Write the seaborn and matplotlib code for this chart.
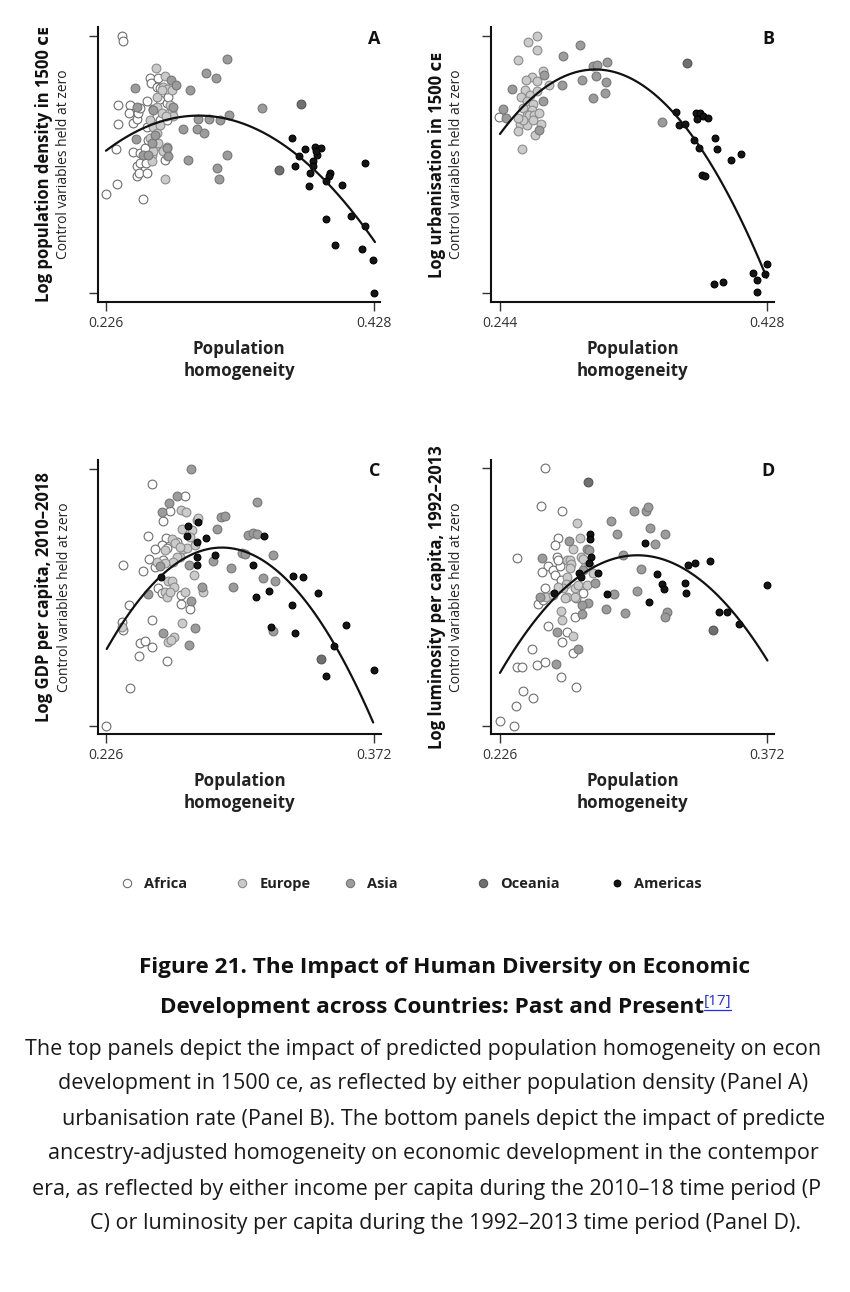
import numpy as np
import seaborn as sns
import matplotlib.pyplot as plt
from matplotlib.lines import Line2D

W, H = 850, 1292

# ---- data (y is normalised: bottom tick = 0, top tick = 1)
regions = ["Africa", "Europe", "Asia", "Oceania", "Americas"]

panel_a = {
    "Africa": ([0.2378, 0.2391, 0.2348, 0.2348, 0.2338, 0.2346, 0.2263, 0.2541, 0.2461, 0.2441,
                0.2431, 0.2461, 0.2491, 0.2499, 0.2516, 0.2566, 0.2592, 0.2597, 0.2642, 0.2667,
                0.2516, 0.2491, 0.2516, 0.2491, 0.2511, 0.2566, 0.2561, 0.2554, 0.2579, 0.2667,
                0.2692, 0.2717, 0.2705, 0.2566, 0.2617, 0.2642, 0.2667, 0.2730, 0.2654, 0.2717],
               [1.000, 0.981, 0.731, 0.657, 0.559, 0.423, 0.383, 0.367, 0.546, 0.731,
                0.701, 0.660, 0.675, 0.699, 0.718, 0.748, 0.834, 0.815, 0.802, 0.796,
                0.543, 0.492, 0.505, 0.455, 0.466, 0.468, 0.507, 0.563, 0.595, 0.750,
                0.724, 0.737, 0.517, 0.647, 0.714, 0.686, 0.673, 0.763, 0.834, 0.673]),
    "Europe": ([0.2634, 0.2705, 0.2692, 0.2642, 0.2717, 0.2680, 0.2755, 0.2642, 0.2742, 0.2680,
                0.2755, 0.2767, 0.2712, 0.2592, 0.2617, 0.2642, 0.2667, 0.2592, 0.2629, 0.2604,
                0.2604, 0.2705, 0.2717, 0.2717, 0.2692, 0.2654, 0.2617],
               [0.873, 0.843, 0.802, 0.761, 0.792, 0.789, 0.789, 0.724, 0.731, 0.699,
                0.705, 0.686, 0.686, 0.673, 0.647, 0.621, 0.653, 0.602, 0.569, 0.537,
                0.511, 0.442, 0.569, 0.537, 0.550, 0.582, 0.550]),
    "Asia": ([0.2479, 0.2496, 0.2486, 0.2536, 0.2617, 0.2579, 0.2747, 0.2785, 0.2767, 0.2893,
              0.3014, 0.3086, 0.3169, 0.2840, 0.2943, 0.2999, 0.2956, 0.3039, 0.3119, 0.3189,
              0.2880, 0.3094, 0.3114, 0.3174, 0.3433, 0.2717, 0.2730, 0.2604, 0.2629],
             [0.796, 0.722, 0.599, 0.537, 0.712, 0.537, 0.828, 0.807, 0.724, 0.787,
              0.856, 0.834, 0.909, 0.636, 0.636, 0.621, 0.678, 0.675, 0.673, 0.692,
              0.515, 0.485, 0.444, 0.536, 0.718, 0.563, 0.533, 0.582, 0.614]),
    "Oceania": ([0.3732, 0.3566], [0.736, 0.479]),
    "Americas": ([0.3662, 0.3762, 0.3837, 0.3878, 0.3717, 0.3848, 0.3843, 0.3822, 0.3687, 0.3797,
                  0.3787, 0.3948, 0.3943, 0.3918, 0.4038, 0.4214, 0.3817, 0.3918, 0.4104, 0.4209,
                  0.3988, 0.4189, 0.4270, 0.4280],
                 [0.602, 0.561, 0.569, 0.565, 0.533, 0.537, 0.550, 0.511, 0.492, 0.466,
                  0.414, 0.468, 0.453, 0.437, 0.418, 0.505, 0.494, 0.288, 0.300, 0.259,
                  0.185, 0.169, 0.129, 0.000]),
}
curve_a_x = [0.226, 0.2592, 0.2918, 0.3194, 0.3471, 0.3722, 0.3973, 0.4287]
curve_a_y = [0.556, 0.647, 0.690, 0.673, 0.614, 0.530, 0.408, 0.194]

panel_b = {
    "Africa": ([0.2435], [0.683]),
    "Europe": ([0.2698, 0.2636, 0.2698, 0.2567, 0.2739, 0.2663, 0.2619, 0.2698, 0.2780, 0.2613,
                0.2583, 0.2647, 0.2693, 0.2624, 0.2670, 0.2601, 0.2659, 0.2624, 0.2642, 0.2677,
                0.2711, 0.2578, 0.2629, 0.2721, 0.2567, 0.2682, 0.2590, 0.2670, 0.2601, 0.2567],
               [1.000, 0.974, 0.943, 0.906, 0.862, 0.840, 0.827, 0.823, 0.810, 0.787,
                0.761, 0.771, 0.784, 0.748, 0.735, 0.719, 0.713, 0.691, 0.693, 0.691,
                0.700, 0.655, 0.652, 0.655, 0.629, 0.613, 0.558, 0.674, 0.674, 0.680]),
    "Asia": ([0.2992, 0.2877, 0.2746, 0.2521, 0.2739, 0.2463, 0.2481, 0.2711, 0.2870, 0.3008,
              0.3084, 0.3107, 0.3176, 0.3102, 0.3169, 0.3079, 0.3167, 0.3558],
             [0.965, 0.922, 0.849, 0.793, 0.745, 0.714, 0.680, 0.635, 0.807, 0.829,
              0.881, 0.885, 0.897, 0.842, 0.819, 0.758, 0.776, 0.664]),
    "Oceania": ([0.3728], [0.893]),
    "Americas": ([0.3654, 0.3677, 0.3717, 0.3792, 0.3820, 0.3843, 0.3875, 0.3802, 0.3779, 0.3815,
                  0.3926, 0.3940, 0.4034, 0.4103, 0.3834, 0.3852, 0.3917, 0.3981, 0.4188, 0.4211,
                  0.4211, 0.4282, 0.4271],
                 [0.705, 0.651, 0.655, 0.701, 0.701, 0.688, 0.679, 0.675, 0.595, 0.565,
                  0.604, 0.560, 0.516, 0.542, 0.459, 0.453, 0.035, 0.043, 0.079, 0.052,
                  0.003, 0.114, 0.075]),
}
curve_b_x = [0.244, 0.2624, 0.2808, 0.2992, 0.3096, 0.3268, 0.3452, 0.3682, 0.3866, 0.4096, 0.428]
curve_b_y = [0.621, 0.737, 0.818, 0.860, 0.867, 0.850, 0.809, 0.666, 0.524, 0.295, 0.058]

panel_c = {
    "Africa": ([0.2509, 0.2689, 0.2609, 0.2569, 0.2491, 0.2585, 0.2563, 0.2527, 0.2496, 0.2354,
                0.2463, 0.2527, 0.2572, 0.2545, 0.2563, 0.2667, 0.2667, 0.2718, 0.2383, 0.2354,
                0.2347, 0.2509, 0.2445, 0.2472, 0.2509, 0.2442, 0.2594, 0.2391, 0.2260, 0.2591,
                0.2645],
               [0.940, 0.896, 0.836, 0.797, 0.739, 0.732, 0.704, 0.687, 0.648, 0.625,
                0.604, 0.619, 0.645, 0.535, 0.518, 0.509, 0.474, 0.453, 0.471, 0.373,
                0.405, 0.410, 0.321, 0.331, 0.308, 0.273, 0.251, 0.148, 0.001, 0.691,
                0.717]),
    "Europe": ([0.2669, 0.2696, 0.2672, 0.2727, 0.2581, 0.2618, 0.2636, 0.2681, 0.2703, 0.2663,
                0.2645, 0.2627, 0.2581, 0.2536, 0.2600, 0.2618, 0.2631, 0.2581, 0.2591, 0.2609,
                0.2741, 0.2690, 0.2672, 0.2600, 0.2631, 0.2614, 0.2754, 0.2763, 0.2790, 0.2745,
                0.2718, 0.2663, 0.2345],
               [0.840, 0.834, 0.765, 0.762, 0.684, 0.726, 0.713, 0.687, 0.691, 0.658,
                0.656, 0.639, 0.635, 0.638, 0.565, 0.565, 0.542, 0.522, 0.503, 0.522,
                0.587, 0.522, 0.401, 0.327, 0.347, 0.334, 0.801, 0.808, 0.522, 0.704,
                0.736, 0.697, 0.386]),
    "Asia": ([0.2721, 0.2645, 0.2605, 0.2567, 0.3081, 0.2885, 0.2908, 0.2867, 0.3035, 0.3059,
              0.3081, 0.2999, 0.3017, 0.3168, 0.2841, 0.2939, 0.2714, 0.2785, 0.2950, 0.3114,
              0.3179, 0.2721, 0.2491, 0.2572, 0.2747, 0.2712, 0.2554, 0.3172],
             [1.000, 0.895, 0.869, 0.831, 0.873, 0.814, 0.818, 0.766, 0.742, 0.752,
              0.747, 0.674, 0.668, 0.665, 0.642, 0.613, 0.626, 0.539, 0.542, 0.577,
              0.565, 0.487, 0.512, 0.362, 0.379, 0.314, 0.623, 0.370]),
    "Oceania": ([0.3430], [0.262]),
    "Americas": ([0.2709, 0.2763, 0.2703, 0.2758, 0.2805, 0.2754, 0.2758, 0.2854, 0.2558, 0.3059,
                  0.3121, 0.3150, 0.3077, 0.3157, 0.3281, 0.3335, 0.3415, 0.3273, 0.3290, 0.3568,
                  0.3504, 0.3459, 0.3720],
                 [0.779, 0.792, 0.739, 0.717, 0.731, 0.658, 0.625, 0.665, 0.578, 0.625,
                  0.739, 0.526, 0.501, 0.383, 0.583, 0.578, 0.516, 0.470, 0.362, 0.394,
                  0.310, 0.194, 0.217]),
}
curve_c_x = [0.2264, 0.2409, 0.2554, 0.2699, 0.2890, 0.3063, 0.3244, 0.3426, 0.3571, 0.3716]
curve_c_y = [0.297, 0.461, 0.581, 0.658, 0.695, 0.665, 0.568, 0.405, 0.230, 0.016]

panel_d = {
    "Africa": ([0.2506, 0.2483, 0.2598, 0.2351, 0.2579, 0.2561, 0.2570, 0.2525, 0.2488, 0.2552,
                0.2589, 0.2561, 0.2592, 0.2506, 0.2466, 0.2497, 0.2525, 0.2625, 0.2598, 0.2671,
                0.2662, 0.2437, 0.2351, 0.2379, 0.2461, 0.2506, 0.2592, 0.2674, 0.2384, 0.2439,
                0.2348, 0.2260, 0.2338, 0.2716, 0.2676, 0.2579],
               [1.000, 0.855, 0.834, 0.650, 0.728, 0.702, 0.654, 0.620, 0.598, 0.605,
                0.620, 0.586, 0.566, 0.534, 0.472, 0.488, 0.387, 0.365, 0.326, 0.424,
                0.284, 0.298, 0.229, 0.228, 0.236, 0.249, 0.190, 0.152, 0.135, 0.109,
                0.076, 0.019, 0.001, 0.514, 0.495, 0.644]),
    "Europe": ([0.2683, 0.2698, 0.2662, 0.2625, 0.2643, 0.2649, 0.2702, 0.2713, 0.2725, 0.2643,
                0.2629, 0.2621, 0.2607, 0.2579, 0.2625, 0.2671, 0.2689, 0.2738, 0.2671, 0.2512,
                0.2598, 0.2662, 0.2749, 0.2771, 0.2594, 0.2616, 0.2552],
               [0.786, 0.728, 0.685, 0.644, 0.644, 0.628, 0.657, 0.646, 0.618, 0.611,
                0.576, 0.551, 0.534, 0.540, 0.501, 0.534, 0.547, 0.547, 0.499, 0.501,
                0.411, 0.348, 0.624, 0.592, 0.447, 0.496, 0.508]),
    "Asia": ([0.2868, 0.2899, 0.2640, 0.2488, 0.2735, 0.2745, 0.2932, 0.2716, 0.2780, 0.2740,
              0.2707, 0.2707, 0.2839, 0.2884, 0.2944, 0.2479, 0.2570, 0.2689, 0.2567, 0.3008,
              0.2994, 0.3059, 0.3072, 0.3081, 0.3109, 0.3165, 0.3030, 0.3173, 0.3165],
             [0.795, 0.745, 0.719, 0.650, 0.685, 0.683, 0.663, 0.605, 0.556, 0.478,
              0.468, 0.433, 0.452, 0.510, 0.437, 0.499, 0.365, 0.297, 0.240, 0.525,
              0.835, 0.833, 0.851, 0.767, 0.705, 0.745, 0.610, 0.443, 0.424]),
    "Oceania": ([0.2744, 0.3424], [0.948, 0.372]),
    "Americas": ([0.2753, 0.2753, 0.2758, 0.2749, 0.2694, 0.2702, 0.2798, 0.2844, 0.2557, 0.3054,
                  0.3078, 0.3121, 0.3147, 0.3156, 0.3273, 0.3280, 0.3289, 0.3329, 0.3412, 0.3459,
                  0.3503, 0.3567, 0.3724],
                 [0.745, 0.725, 0.657, 0.631, 0.595, 0.579, 0.595, 0.510, 0.514, 0.711,
                  0.482, 0.591, 0.551, 0.531, 0.553, 0.516, 0.626, 0.633, 0.640, 0.443,
                  0.440, 0.395, 0.545]),
}
curve_d_x = [0.2260, 0.2388, 0.2552, 0.2753, 0.2935, 0.3008, 0.3136, 0.3282, 0.3428, 0.3574, 0.3724]
curve_d_y = [0.206, 0.335, 0.501, 0.615, 0.659, 0.662, 0.650, 0.601, 0.514, 0.398, 0.266]

xticks_ab = ([0.226, 0.428], [0.244, 0.428])
xticks_cd = ([0.226, 0.372], [0.226, 0.372])

# caption lines as far as they are visible in the cropped page
body = [
    "The top panels depict the impact of predicted population homogeneity on econ",
    "development in 1500 ce, as reflected by either population density (Panel A)",
    "urbanisation rate (Panel B). The bottom panels depict the impact of predicte",
    "ancestry-adjusted homogeneity on economic development in the contempor",
    "era, as reflected by either income per capita during the 2010\u201318 time period (P",
    "C) or luminosity per capita during the 1992\u20132013 time period (Panel D).",
]
body_left = [25, 58, 62, 48, 32, 90]

# ---- styles
face = {"Africa": "#ffffff", "Europe": "#cbcbcb", "Asia": "#9c9c9c",
        "Oceania": "#707070", "Americas": "#151515"}
edge = {"Africa": "#6e6e6e", "Europe": "#8c8c8c", "Asia": "#777777",
        "Oceania": "#555555", "Americas": "#000000"}
msize = {"Africa": 40, "Europe": 40, "Asia": 40, "Oceania": 40, "Americas": 24}

sns.set_theme(style="ticks")
plt.rcParams["font.family"] = ["Open Sans", "DejaVu Sans"]

fig = plt.figure(figsize=(W / 100, H / 100), dpi=100)
fig.patch.set_facecolor("white")


def px(x, y):
    return x / W, 1 - y / H


panels = [
    dict(data=panel_a, cx=curve_a_x, cy=curve_a_y, ticks=xticks_ab[0], letter="A",
         rect=(98, 301.7, 282, 275), xlim=(0.2200, 0.4325), ylim=(-0.034, 1.035),
         ylab="Log population density in 1500 \u1d04\u1d07", let_y=39),
    dict(data=panel_b, cx=curve_b_x, cy=curve_b_y, ticks=xticks_ab[1], letter="B",
         rect=(490.7, 301.7, 283.3, 275), xlim=(0.2376, 0.4330), ylim=(-0.034, 1.035),
         ylab="Log urbanisation in 1500 \u1d04\u1d07", let_y=39),
    dict(data=panel_c, cx=curve_c_x, cy=curve_c_y, ticks=xticks_cd[0], letter="C",
         rect=(98.3, 734, 282.4, 274), xlim=(0.2218, 0.3757), ylim=(-0.032, 1.035),
         ylab="Log GDP per capita, 2010\u20132018", let_y=471),
    dict(data=panel_d, cx=curve_d_x, cy=curve_d_y, ticks=xticks_cd[1], letter="D",
         rect=(491, 734, 283, 274), xlim=(0.2211, 0.3760), ylim=(-0.032, 1.032),
         ylab="Log luminosity per capita, 1992\u20132013", let_y=471),
]

for p in panels:
    l, b, w, h = p["rect"]
    ax = fig.add_axes([l / W, 1 - b / H, w / W, h / H])
    for r in regions:
        xs, ys = p["data"][r]
        sns.scatterplot(x=xs, y=ys, ax=ax, color=face[r], edgecolor=edge[r],
                        s=msize[r], linewidth=0.8, zorder=3, legend=False)
    sns.regplot(x=np.array(p["cx"]), y=np.array(p["cy"]), order=2, ci=None,
                scatter=False, truncate=True, ax=ax,
                line_kws=dict(color="#111111", lw=1.6, zorder=4))
    ax.set_xlim(*p["xlim"])
    ax.set_ylim(*p["ylim"])
    ax.set_xticks(p["ticks"])
    ax.set_xticklabels([f"{t:.3f}" for t in p["ticks"]])
    ax.set_yticks([0, 1])
    ax.set_yticklabels([])
    ax.set_xlabel("")
    ax.set_ylabel("")
    sns.despine(ax=ax)
    for s in ("left", "bottom"):
        ax.spines[s].set_linewidth(1.5)
        ax.spines[s].set_color("#111111")
    ax.tick_params(axis="both", direction="out", length=6.5, width=1.0,
                   color="#333333", labelsize=10, labelcolor="#333333", pad=3.5)
    ax.set_facecolor("white")
    ax.text((w - 6) / w, (b - p["let_y"]) / h, p["letter"], transform=ax.transAxes,
            ha="center", va="center", fontsize=13, fontweight="bold", color="#111111")

    cx = l + w / 2
    cy = b - h / 2
    fig.text(*px(cx, b + 58), "Population\nhomogeneity", ha="center", va="center",
             fontsize=12.2, fontweight="bold", linespacing=1.3, color="#222222")
    fig.text(*px(l - 54, cy), p["ylab"], rotation=90, ha="center", va="center",
             fontsize=12, fontweight="bold", color="#111111")
    fig.text(*px(l - 34, cy), "Control variables held at zero", rotation=90,
             ha="center", va="center", fontsize=10, color="#222222")

# ---- legend
leg_x = {"Africa": 119.7, "Europe": 234.7, "Asia": 342.7, "Oceania": 475.7, "Americas": 609.7}
for r in regions:
    h = Line2D([], [], marker="o", linestyle="none", markersize=6 if r != "Americas" else 4.8,
               markerfacecolor=face[r], markeredgecolor=edge[r], markeredgewidth=0.8)
    fig.legend(handles=[h], labels=[r], loc="center left",
               bbox_to_anchor=px(leg_x[r], 884), frameon=False, handlelength=1.0,
               handletextpad=0.7, borderpad=0, borderaxespad=0,
               prop=dict(size=10.5, weight="bold"), labelcolor="#222222")

# ---- caption
fig.text(*px(445, 968), "Figure 21. The Impact of Human Diversity on Economic",
         ha="center", va="center", fontsize=16.2, fontweight="bold", color="#111111")

renderer = fig.canvas.get_renderer()
t_main = fig.text(0, 0, "Development across Countries: Past and Present",
                  ha="left", va="center", fontsize=16.2, fontweight="bold", color="#111111")
t_sup = fig.text(0, 0, "[17]", ha="left", va="center", fontsize=11, color="#1f2fe0")
w_main = t_main.get_window_extent(renderer).width
w_sup = t_sup.get_window_extent(renderer).width
x0 = 445.5 - (w_main + w_sup) / 2
t_main.set_position(px(x0, 1007))
t_sup.set_position(px(x0 + w_main, 1001))
fig.add_artist(Line2D([(x0 + w_main) / W, (x0 + w_main + w_sup) / W],
                      [1 - 1010 / H, 1 - 1010 / H], transform=fig.transFigure,
                      color="#1f2fe0", lw=0.9))

for i, line in enumerate(body):
    fig.text(*px(body_left[i], 1049 + 35 * i), line, ha="left", va="center",
             fontsize=15.5, color="#1a1a1a")

fig.savefig("out.png", dpi=100)
